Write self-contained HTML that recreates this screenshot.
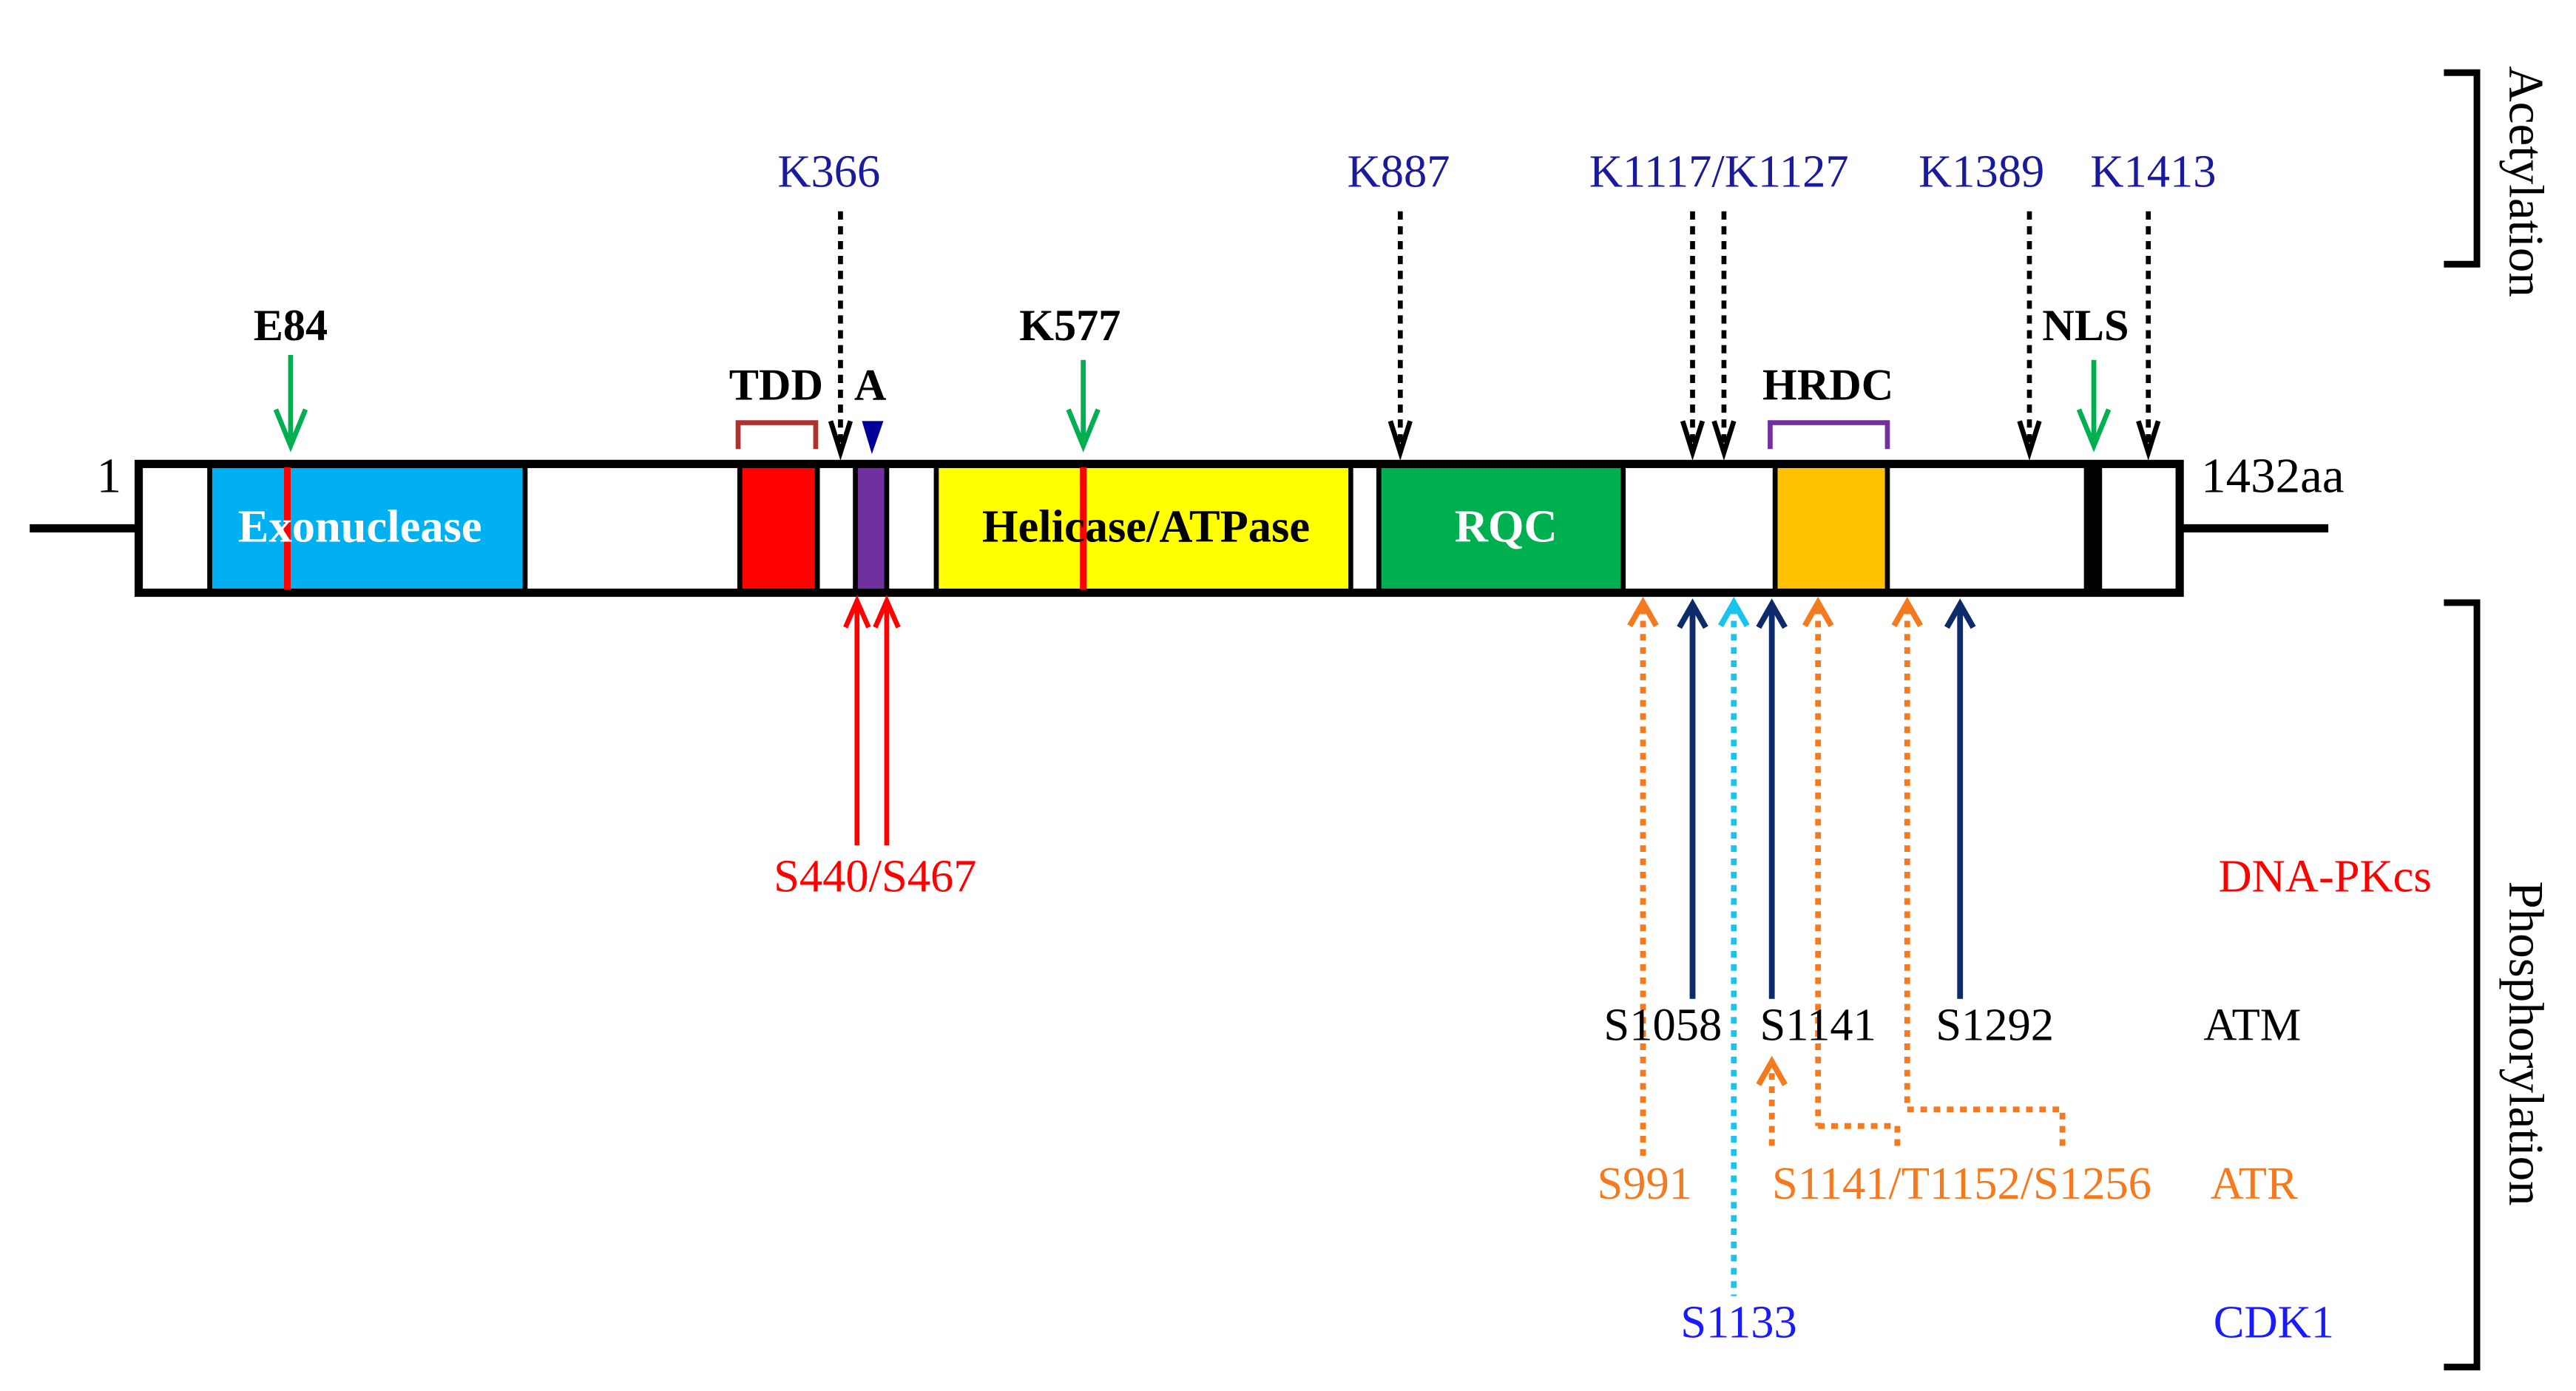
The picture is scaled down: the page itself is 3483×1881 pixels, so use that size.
<!DOCTYPE html>
<html><head><meta charset="utf-8"><style>
html,body{margin:0;padding:0;background:#fff;}
svg{display:block;}
text{font-family:"Liberation Serif",serif;}
</style></head><body>
<svg width="3483" height="1881" viewBox="0 0 1560 842.5" preserveAspectRatio="none" xmlns="http://www.w3.org/2000/svg">
<!-- axis lines -->
<line x1="18" y1="320" x2="84" y2="320" stroke="#000" stroke-width="5"/>
<line x1="1318" y1="320" x2="1410" y2="320" stroke="#000" stroke-width="5"/>
<!-- domain fills -->
<rect x="127" y="282" width="191" height="76" fill="#00B0F0"/>
<rect x="448" y="282" width="47" height="76" fill="#FF0000"/>
<rect x="518" y="282" width="19" height="76" fill="#7030A0"/>
<rect x="567" y="282" width="251" height="76" fill="#FFFF00"/>
<rect x="835" y="282" width="148" height="76" fill="#00B050"/>
<rect x="1075" y="282" width="68" height="76" fill="#FFC000"/>
<rect x="1262" y="282" width="11" height="76" fill="#000"/>
<!-- separators -->
<g stroke="#000" stroke-width="3">
<line x1="127" y1="282" x2="127" y2="358"/><line x1="318" y1="282" x2="318" y2="358"/>
<line x1="448" y1="282" x2="448" y2="358"/><line x1="495" y1="282" x2="495" y2="358"/>
<line x1="518" y1="282" x2="518" y2="358"/><line x1="537" y1="282" x2="537" y2="358"/>
<line x1="567" y1="282" x2="567" y2="358"/><line x1="818" y1="282" x2="818" y2="358"/>
<line x1="835" y1="282" x2="835" y2="358"/><line x1="983" y1="282" x2="983" y2="358"/>
<line x1="1075" y1="282" x2="1075" y2="358"/><line x1="1143" y1="282" x2="1143" y2="358"/>
</g>
<rect x="84" y="281" width="1236" height="78" fill="none" stroke="#000" stroke-width="5"/>
<!-- red marks -->
<line x1="174" y1="283" x2="174" y2="357" stroke="#FF0000" stroke-width="4"/>
<line x1="656" y1="283" x2="656" y2="357" stroke="#FF0000" stroke-width="4"/>
<!-- domain labels -->
<text x="218" y="328" font-size="28" font-weight="bold" fill="#fff" text-anchor="middle">Exonuclease</text>
<text x="694" y="328" font-size="28" font-weight="bold" fill="#000" text-anchor="middle">Helicase/ATPase</text>
<text x="912" y="328" font-size="28" font-weight="bold" fill="#fff" text-anchor="middle">RQC</text>
<text x="66" y="298" font-size="30" fill="#000" text-anchor="middle">1</text>
<text x="1333" y="298" font-size="30" fill="#000">1432aa</text>
<!-- top black bold labels -->
<g font-size="27" font-weight="bold" fill="#000" text-anchor="middle">
<text x="176" y="206">E84</text>
<text x="648" y="206">K577</text>
<text x="470" y="242">TDD</text>
<text x="527" y="242">A</text>
<text x="1107" y="242">HRDC</text>
<text x="1263" y="206">NLS</text>
</g>
<!-- green arrows -->
<g stroke="#00B050" stroke-width="3" fill="none">
<line x1="176" y1="215" x2="176" y2="270"/><polyline points="167,248 176,270 185,248"/>
<line x1="656" y1="218" x2="656" y2="270"/><polyline points="647,248 656,270 665,248"/>
<line x1="1268" y1="218" x2="1268" y2="270"/><polyline points="1259,248 1268,270 1277,248"/>
</g>
<!-- brackets -->
<polyline points="447,272 447,256 494,256 494,272" fill="none" stroke="#B03030" stroke-width="3"/>
<polyline points="1072,272 1072,256 1143,256 1143,272" fill="none" stroke="#7030A0" stroke-width="3"/>
<polygon points="522,255 535,255 528,275" fill="#000099"/>
<!-- acetylation labels -->
<g font-size="28" fill="#1a1a9c" text-anchor="middle">
<text x="502" y="113">K366</text>
<text x="847" y="113">K887</text>
<text x="1041" y="113">K1117/K1127</text>
<text x="1200" y="113">K1389</text>
<text x="1304" y="113">K1413</text>
</g>
<g stroke="#000" stroke-width="3" fill="none">
<g stroke-dasharray="5,4">
<line x1="509" y1="128" x2="509" y2="272"/>
<line x1="848" y1="128" x2="848" y2="272"/>
<line x1="1025" y1="128" x2="1025" y2="272"/>
<line x1="1044" y1="128" x2="1044" y2="272"/>
<line x1="1229" y1="128" x2="1229" y2="272"/>
<line x1="1301" y1="128" x2="1301" y2="272"/>
</g>
<polyline points="503,255 509,274 515,255"/>
<polyline points="842,255 848,274 854,255"/>
<polyline points="1019,255 1025,274 1031,255"/>
<polyline points="1038,255 1044,274 1050,255"/>
<polyline points="1223,255 1229,274 1235,255"/>
<polyline points="1295,255 1301,274 1307,255"/>
</g>
<!-- red arrows -->
<g stroke="#FF0000" stroke-width="3" fill="none">
<line x1="519" y1="364" x2="519" y2="512"/><polyline points="512,380 519,364 526,380"/>
<line x1="537" y1="364" x2="537" y2="512"/><polyline points="530,380 537,364 544,380"/>
</g>
<text x="530" y="540" font-size="28" fill="#FF0000" text-anchor="middle">S440/S467</text>
<!-- phosphorylation arrows -->
<g stroke="#F47A1F" stroke-width="3.5" fill="none">
<g stroke-dasharray="4,4">
<line x1="995" y1="368" x2="995" y2="700"/>
<line x1="1101" y1="368" x2="1101" y2="682"/>
<line x1="1155" y1="368" x2="1155" y2="672"/>
<polyline points="1101,682 1149,682 1149,694"/>
<polyline points="1155,672 1249,672 1249,694"/>
<line x1="1073" y1="650" x2="1073" y2="698"/>
</g>
<polyline points="987,379 995,365 1003,379"/>
<polyline points="1093,379 1101,365 1109,379"/>
<polyline points="1147,379 1155,365 1163,379"/>
<polyline points="1065,657 1073,643 1081,657"/>
</g>
<g stroke="#0D2B6B" stroke-width="3.5" fill="none">
<line x1="1025" y1="366" x2="1025" y2="605"/><polyline points="1017,380 1025,366 1033,380"/>
<line x1="1073" y1="366" x2="1073" y2="605"/><polyline points="1065,380 1073,366 1081,380"/>
<line x1="1187" y1="366" x2="1187" y2="605"/><polyline points="1179,380 1187,366 1195,380"/>
</g>
<g stroke="#18C3EE" stroke-width="3.5" fill="none">
<line x1="1050" y1="368" x2="1050" y2="785" stroke-dasharray="4,4"/>
<polyline points="1042,379 1050,365 1058,379"/>
</g>
<!-- phosphorylation labels -->
<g font-size="28" text-anchor="middle">
<text x="1007" y="630" fill="#000">S1058</text>
<text x="1101" y="630" fill="#000">S1141</text>
<text x="1208" y="630" fill="#000">S1292</text>
<text x="1364" y="630" fill="#000">ATM</text>
<text x="996" y="726" fill="#F47A1F">S991</text>
<text x="1188" y="726" fill="#F47A1F">S1141/T1152/S1256</text>
<text x="1365" y="726" fill="#F47A1F">ATR</text>
<text x="1053" y="810" fill="#1a1aff">S1133</text>
<text x="1377" y="810" fill="#1a1aff">CDK1</text>
<text x="1408" y="540" fill="#FF0000">DNA-PKcs</text>
</g>
<!-- side brackets -->
<polyline points="1480,44 1500,44 1500,160 1480,160" fill="none" stroke="#000" stroke-width="4"/>
<polyline points="1480,365 1500,365 1500,828 1480,828" fill="none" stroke="#000" stroke-width="4"/>
<text transform="translate(1520,110) rotate(90)" font-size="30" fill="#000" text-anchor="middle">Acetylation</text>
<text transform="translate(1520,632) rotate(90)" font-size="30" fill="#000" text-anchor="middle">Phosphorylation</text>
</svg>
</body></html>
